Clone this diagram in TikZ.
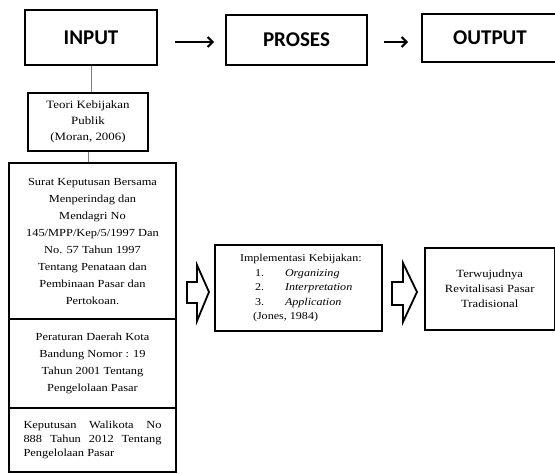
\documentclass[tikz,border=0pt]{standalone}
\usepackage{fontspec}
\setmainfont{Liberation Serif}
\newfontfamily\tnr[FakeStretch=1.15]{Liberation Serif}
\newfontfamily\hdfont{Carlito}
\usetikzlibrary{arrows.meta}
\begin{document}
\begin{tikzpicture}[x=1pt,y=-1pt,
  head/.style={draw, line width=1.6pt, inner sep=0pt, font=\hdfont\bfseries\fontsize{21}{24}\selectfont},
  box/.style={draw, line width=1.3pt, inner sep=0pt, align=center, minimum width=167pt},
  link/.style={draw=gray, line width=0.8pt},
  smallarrow/.style={line width=2pt, -{Straight Barb[length=5pt,width=10pt]}},
  bigarrow/.style={draw, line width=1.8pt, line join=miter, fill=white}]
\useasboundingbox (0,0) rectangle (555,474);
% top row
\node[head, minimum width=132pt, minimum height=55pt] (input) at (91,37.5) {INPUT};
\node[head, minimum width=141pt, minimum height=50pt] (proses) at (296.5,40) {PROSES};
\node[head, minimum width=136pt, minimum height=48pt] (output) at (490,38) {OUTPUT};
\coordinate (a1s) at (175,42);
\coordinate (a1e) at (214,42);
\coordinate (a2s) at (384,42);
\coordinate (a2e) at (408,42);
\draw[smallarrow] (a1s) -- (a1e);
\draw[smallarrow] (a2s) -- (a2e);
% left column
\node[box, line width=2.6pt, minimum width=120pt, minimum height=58pt,
      font=\tnr\fontsize{11.2}{16}\selectfont] (teori) at (88,122)
  {Teori Kebijakan\\Publik\\(Moran, 2006)};
\node[box, minimum height=156pt, font=\tnr\fontsize{10.8}{17}\selectfont] (surat) at (92.5,241)
  {Surat Keputusan Bersama\\Menperindag dan\\Mendagri No\\145/MPP/Kep/5/1997 Dan\\No. 57 Tahun 1997\\Tentang Penataan dan\\Pembinaan Pasar dan\\Pertokoan.};
\node[box, minimum height=89pt, font=\tnr\fontsize{10.8}{17}\selectfont] (perda) at (92.5,363.5)
  {Peraturan Daerah Kota\\Bandung Nomor : 19\\Tahun 2001 Tentang\\Pengelolaan Pasar};
\node[box, minimum height=64pt] (kepwal) at (92.5,440)
  {\parbox{138pt}{\tnr\fontsize{10.8}{14}\selectfont Keputusan Walikota No\linebreak 888 Tahun 2012 Tentang\linebreak Pengelolaan Pasar}};
\draw[link] (input.south) -- (input.south |- teori.north);
\draw[link] (teori.south) -- (teori.south |- surat.north);
% middle and right
\node[box, minimum height=86pt] (impl) at (298.5,288)
  {\parbox{167pt}{\tnr\fontsize{10.5}{14.5}\selectfont
   \hspace*{25pt}Implementasi Kebijakan:\\
   \hspace*{40pt}\makebox[30pt][l]{1.}\textit{Organizing}\\
   \hspace*{40pt}\makebox[30pt][l]{2.}\textit{Interpretation}\\
   \hspace*{40pt}\makebox[30pt][l]{3.}\textit{Application}\\
   \hspace*{38pt}(Jones, 1984)}};
\node[box, minimum width=129.5pt, minimum height=82pt, font=\tnr\fontsize{11}{15}\selectfont] (terw) at (489.75,289)
  {Terwujudnya\\Revitalisasi Pasar\\Tradisional};
% hollow block arrows
\coordinate (ar1) at (198,292);
\coordinate (ar2) at (404,292);
\draw[bigarrow] ([shift={(-11,-10)}]ar1) -- ++(10,0) -- ++(0,-17) -- ++(12,27) -- ++(-12,29) -- ++(0,-18) -- ++(-10,0) -- cycle;
\draw[bigarrow] ([shift={(-12,-10)}]ar2) -- ++(11,0) -- ++(0,-19) -- ++(14,29) -- ++(-14,30) -- ++(0,-17) -- ++(-11,0) -- cycle;
\end{tikzpicture}
\end{document}
